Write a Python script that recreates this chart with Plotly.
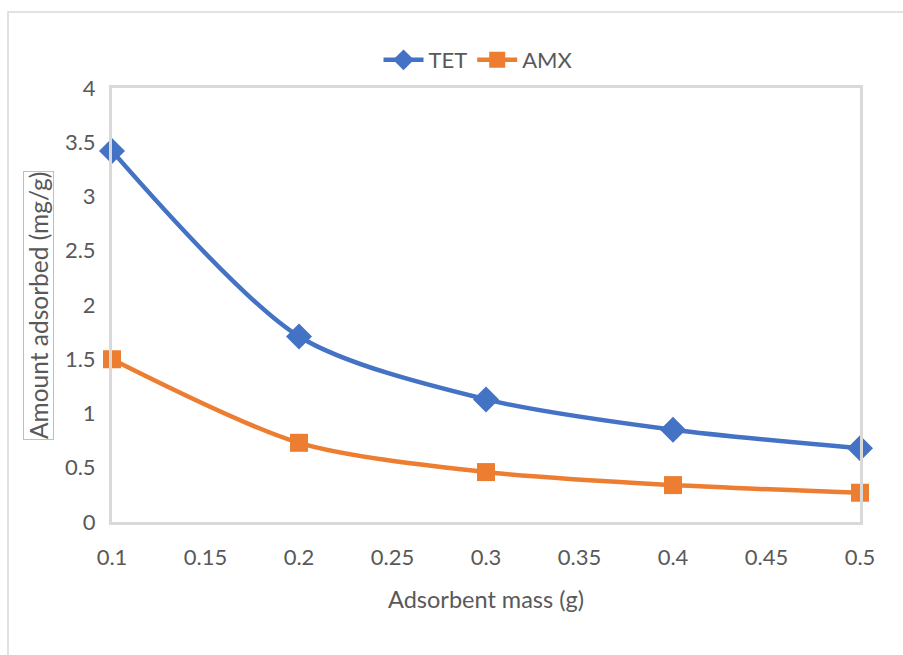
import plotly.graph_objects as go

# Adsorbent mass (g)
mass = [0.1, 0.2, 0.3, 0.4, 0.5]
# Amount adsorbed (mg/g)
tet = [3.42, 1.71, 1.13, 0.85, 0.68]
amx = [1.50, 0.73, 0.46, 0.34, 0.27]

x_ticks = [0.1, 0.15, 0.2, 0.25, 0.3, 0.35, 0.4, 0.45, 0.5]
x_tick_text = ["0.1", "0.15", "0.2", "0.25", "0.3", "0.35", "0.4", "0.45", "0.5"]
y_ticks = [0, 0.5, 1, 1.5, 2, 2.5, 3, 3.5, 4]
y_tick_text = ["0", "0.5", "1", "1.5", "2", "2.5", "3", "3.5", "4"]

FONT = "Lato, Open Sans, sans-serif"
GREY = "#595959"

fig = go.Figure()
fig.add_trace(go.Scatter(
    x=mass, y=tet, name="TET", mode="lines+markers",
    line=dict(color="#4472C4", width=4.5, shape="spline", smoothing=0.8),
    marker=dict(symbol="diamond", size=20, color="#4472C4"),
    cliponaxis=False,
))
fig.add_trace(go.Scatter(
    x=mass, y=amx, name="AMX", mode="lines+markers",
    line=dict(color="#ED7D31", width=4.5, shape="spline", smoothing=0.8),
    marker=dict(symbol="square", size=18, color="#ED7D31"),
    cliponaxis=False,
))

W, H = 903, 655
L, R, T, B = 112, 43, 88, 133
pw, ph = W - L - R, H - T - B

def px(xp):
    return (xp - L) / pw

def py(yp):
    return 1 - (yp - T) / ph

fig.update_layout(
    width=W, height=H,
    margin=dict(l=L, r=R, t=T, b=B),
    paper_bgcolor="white", plot_bgcolor="white",
    font=dict(family=FONT, color=GREY, size=22),
    showlegend=True,
    legend=dict(orientation="h", x=0.49, xanchor="center", y=py(60), yanchor="middle",
                font=dict(size=22, color=GREY), itemwidth=40, tracegroupgap=0),
    xaxis=dict(range=[0.1, 0.5], tickvals=x_ticks, ticktext=x_tick_text,
               tickfont=dict(size=22, color=GREY),
               showgrid=False, zeroline=False, showline=True, mirror=True,
               linecolor="#D9D9D9", linewidth=3, ticks="", ticklabelstandoff=14,
               title=dict(text="Adsorbent mass (g)", font=dict(size=23.5, color=GREY), standoff=23)),
    yaxis=dict(range=[0, 4], tickvals=y_ticks, ticktext=y_tick_text,
               tickfont=dict(size=22, color=GREY),
               showgrid=False, zeroline=False, showline=True, mirror=True,
               linecolor="#D9D9D9", linewidth=3, ticks="", ticklabelstandoff=9),
    shapes=[
        dict(type="rect", xref="paper", yref="paper",
             x0=px(8), x1=px(920), y0=py(680), y1=py(12),
             line=dict(color="#D9D9D9", width=1.5), layer="below"),
    ],
    annotations=[
        dict(text="Amount adsorbed (mg/g)", xref="paper", yref="paper",
             x=px(38), y=py(306), textangle=-90, showarrow=False,
             font=dict(size=24.5, color=GREY), bordercolor="#BFBFBF", borderwidth=1,
             borderpad=0, xanchor="center", yanchor="middle"),
    ],
)

fig.write_html("out.html")
